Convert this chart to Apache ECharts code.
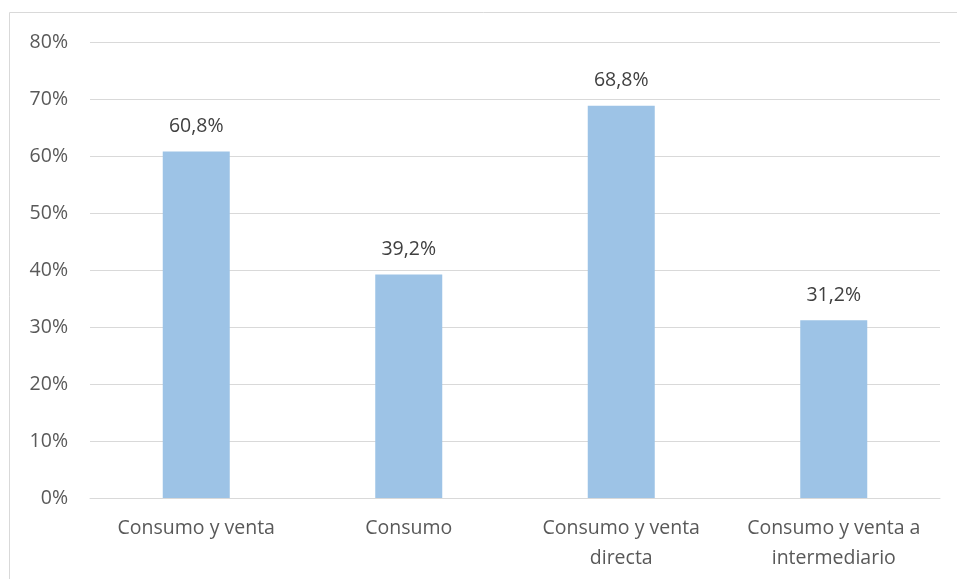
<!DOCTYPE html>
<html>
<head>
<meta charset="utf-8">
<script src="https://cdn.jsdelivr.net/npm/echarts@6/dist/echarts.min.js"></script>
<style>html,body{margin:0;padding:0;background:#fff;}#c{width:957px;height:579px;}</style>
</head>
<body>
<div id="c"></div>
<script>
const categories = ["Consumo y venta", "Consumo", "Consumo y venta\ndirecta", "Consumo y venta a\nintermediario"];
const values = [60.8, 39.2, 68.8, 31.2];
const yTicks = [0, 10, 20, 30, 40, 50, 60, 70, 80];

const chart = echarts.init(document.getElementById('c'), null, {renderer: 'canvas'});
const font = "'Open Sans', 'Noto Sans', sans-serif";
chart.setOption({
  animation: false,
  graphic: [{
    type: 'rect', shape: {x: 9.5, y: 12.5, width: 1000, height: 1000},
    style: {fill: 'none', stroke: '#D9D9D9', lineWidth: 1}, silent: true, z: -1
  }],
  grid: {left: 90, right: 17, top: 42, bottom: 81, containLabel: false},
  xAxis: {
    type: 'category', data: categories,
    axisLine: {lineStyle: {color: '#D9D9D9', width: 1}},
    axisTick: {show: false},
    axisLabel: {color: '#595959', fontSize: 19.5, fontFamily: font, margin: 15, lineHeight: 30, interval: 0}
  },
  yAxis: {
    type: 'value', min: yTicks[0], max: yTicks[yTicks.length - 1], interval: 10,
    axisLine: {show: false}, axisTick: {show: false},
    splitLine: {lineStyle: {color: '#D9D9D9', width: 1}},
    axisLabel: {color: '#595959', fontSize: 19.5, fontFamily: font, margin: 22, formatter: v => v + '%'}
  },
  series: [{
    type: 'bar', data: values, barWidth: 67,
    itemStyle: {color: '#9DC3E6'},
    label: {show: true, position: 'top', distance: 15, color: '#404040', fontSize: 19.5, fontFamily: font,
      formatter: p => p.value.toFixed(1).replace('.', ',') + '%'}
  }]
});
</script>
</body>
</html>
